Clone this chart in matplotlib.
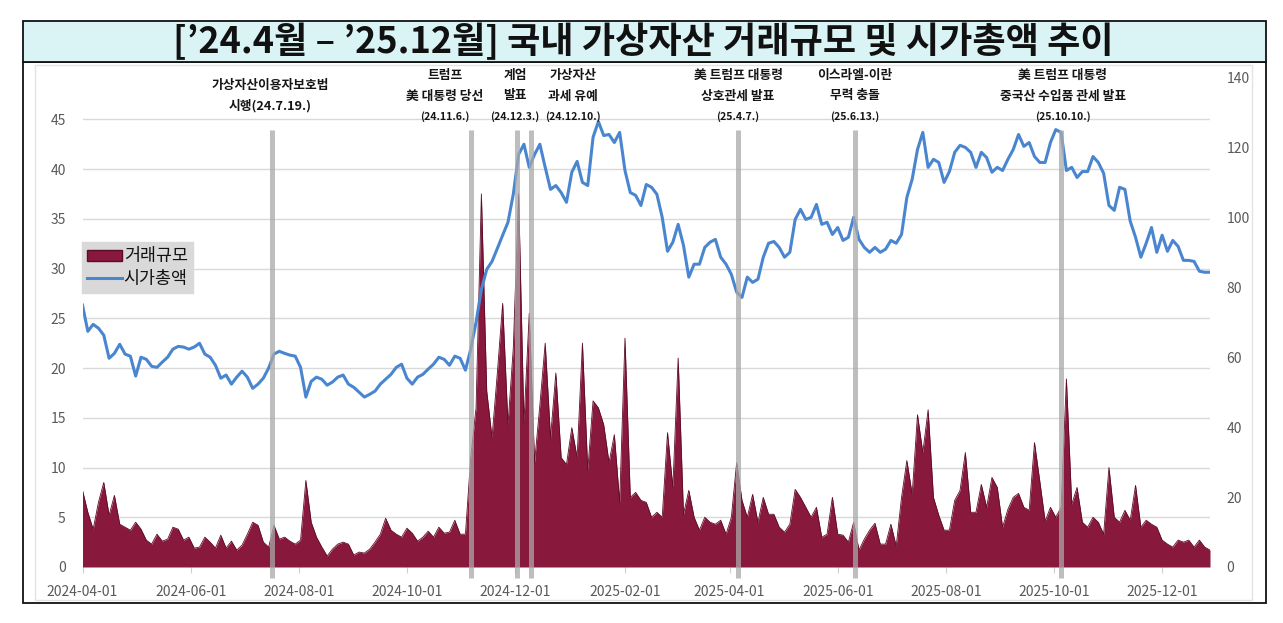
import matplotlib
matplotlib.use("Agg")
import matplotlib.pyplot as plt
import matplotlib.dates as mdates
from matplotlib.patches import Rectangle, Patch
from matplotlib.lines import Line2D
import pandas as pd

plt.rcParams['font.family'] = ['Noto Sans CJK KR', 'DejaVu Sans']

# ---------------- data (3-day sampling) ----------------
start_date = '2024-04-01'
end_date = '2025-12-28'

# 거래규모 (left axis)
volume = [
    7.7, 5.5, 3.8, 6.5, 8.5, 5.2, 7.2, 4.3, 4.0, 3.7, 4.5, 3.8, 2.7, 2.3, 3.3, 2.6, 2.8, 4.0, 3.8, 2.7,
    3.0, 1.9, 2.0, 3.0, 2.5, 1.9, 3.2, 1.9, 2.6, 1.7,
    2.2, 3.3, 4.5, 4.2, 2.5, 2.0, 4.2, 2.8, 3.0, 2.6, 2.3, 2.7, 8.7, 4.5, 3.0, 2.0, 1.1, 1.8, 2.3, 2.5,
    2.3, 1.2, 1.5, 1.4, 1.8, 2.5, 3.3, 4.9, 3.7, 3.3, 3.0, 3.9, 3.4, 2.6, 3.0,
    3.6, 3.0, 4.0, 3.4, 3.5, 4.7, 3.3, 3.3, 11.0, 16.0, 37.5, 17.7, 13.0, 19.5, 26.5, 14.3, 22.0, 37.5,
    14.5, 25.5, 10.5, 16.3, 22.5, 13.0, 19.5, 11.0, 10.3, 14.0, 11.0, 22.5, 9.7, 16.7, 16.0, 14.3, 10.5, 13.3,
    6.5, 23.0, 7.0, 7.5, 6.7, 6.5, 5.0, 5.5, 5.0, 13.5, 8.0, 21.0, 5.3, 7.7, 5.0, 3.7, 5.0, 4.5, 4.3, 4.7,
    3.3, 5.0, 10.5, 6.7, 5.0, 7.3, 4.5, 7.0, 5.3, 5.3, 4.0, 3.5, 4.3, 7.8, 7.0,
    6.0, 5.0, 6.0, 3.0, 3.3, 7.0, 3.3, 3.2, 2.5, 4.5, 1.7, 2.8, 3.7, 4.4, 2.3, 2.3, 4.3, 2.1, 7.0, 10.7,
    7.3, 15.3, 11.5, 15.8, 7.0, 5.2, 3.7, 3.7, 6.7, 7.7, 11.5, 5.5, 5.5, 8.3, 6.0, 9.0,
    8.0, 4.0, 5.8, 7.0, 7.4, 6.0, 5.7, 12.5, 8.6, 4.6, 6.0, 5.0, 6.0, 18.9, 6.3, 8.0, 4.5, 4.0, 5.0, 4.5,
    3.3, 10.0, 5.0, 4.5, 5.7, 4.7, 8.2, 4.0, 4.7, 4.3, 4.0, 2.7, 2.3, 2.0, 2.7, 2.5, 2.7, 2.0, 2.7, 2.0, 1.7,
]

# 시가총액 (right axis)
market_cap = [
    74.9, 67.4, 69.4, 68.3, 66.3, 59.7, 61.1, 63.7, 60.9, 60.3, 54.6, 60.0, 59.4, 57.4, 57.1, 58.6, 60.0,
    62.3, 63.1, 62.9, 62.3, 62.9, 64.0, 60.9, 60.0, 57.7, 54.0, 54.9, 52.3, 54.3,
    56.0, 54.3, 51.1, 52.3, 54.0, 56.9, 60.9, 61.7, 61.1, 60.6, 60.3, 57.1, 48.6, 53.1, 54.3, 53.7, 52.0,
    52.9, 54.3, 54.9, 52.3, 51.4, 50.0, 48.6, 49.4, 50.3, 52.3, 53.7, 55.1, 57.1, 58.0, 54.0, 52.3, 54.3, 55.1,
    56.6, 58.0, 60.0, 59.4, 57.7, 60.3, 59.7, 56.3, 62.3, 70.0, 79.4, 85.1, 87.4, 91.1, 94.9, 98.6, 106.6,
    118.0, 120.9, 114.3, 118.0, 120.9, 114.3, 108.0, 109.1, 107.1, 104.3, 112.9, 116.0, 110.0, 109.1, 122.9,
    127.4, 123.4, 123.7, 121.4,
    124.3, 113.4, 107.1, 106.3, 103.4, 109.4, 108.6, 106.6, 100.0, 90.3, 92.9, 98.0, 92.0, 82.9, 86.6, 86.6,
    91.4, 92.9, 93.7, 88.6, 86.6, 83.7, 78.6, 77.1, 82.9, 81.4, 82.3, 88.6, 92.6, 93.1, 91.4, 88.6, 90.0,
    99.4, 102.3,
    99.4, 100.0, 103.7, 98.0, 98.6, 95.1, 97.1, 93.4, 94.3, 100.0, 93.7, 91.4, 90.0, 91.4, 90.0, 90.9, 93.4,
    92.6, 95.1, 105.7, 110.9, 119.4, 124.3, 114.3, 116.6, 115.7, 110.0, 113.1, 118.6, 120.6, 120.0, 118.6,
    114.3, 118.6, 117.1, 112.9,
    114.3, 113.4, 116.6, 119.4, 123.7, 120.3, 121.4, 117.4, 115.7, 115.7, 121.4, 125.1, 124.3, 113.4, 114.3,
    111.4, 113.1, 113.1, 117.4, 115.7, 112.6, 103.4, 102.0, 108.6, 108.0, 98.9, 94.3, 88.6, 92.6, 97.1, 90.0,
    94.9, 90.3, 93.4, 91.7, 87.7, 87.7, 87.4, 84.6, 84.3, 84.3,
]

series_names = ['거래규모', '시가총액']
left_ticks = [0, 5, 10, 15, 20, 25, 30, 35, 40, 45]
right_ticks = [0, 20, 40, 60, 80, 100, 120, 140]
x_tick_dates = ['2024-04-01', '2024-06-01', '2024-08-01', '2024-10-01', '2024-12-01', '2025-02-01',
                '2025-04-01', '2025-06-01', '2025-08-01', '2025-10-01', '2025-12-01']

event_dates = ['2024-07-17', '2024-11-06', '2024-12-02', '2024-12-10', '2025-04-06', '2025-06-11', '2025-10-05']
event_labels = [
    ['가상자산이용자보호법', '시행(24.7.19.)'],
    ['트럼프', '美 대통령 당선', '(24.11.6.)'],
    ['계엄', '발표', '(24.12.3.)'],
    ['가상자산', '과세 유예', '(24.12.10.)'],
    ['美 트럼프 대통령', '상호관세 발표', '(25.4.7.)'],
    ['이스라엘-이란', '무력 충돌', '(25.6.13.)'],
    ['美 트럼프 대통령', '중국산 수입품 관세 발표', '(25.10.10.)'],
]
title = '[’24.4월 – ’25.12월] 국내 가상자산 거래규모 및 시가총액 추이'

dates = pd.date_range(start_date, periods=len(volume), freq='3D')

# ---------------- styling ----------------
W, H = 1283, 623
MAROON = '#89183D'
MAROON_EDGE = '#5C0C28'
BLUE = '#4A86CF'
GRID = '#D9D9D9'
TICK_COL = '#595959'


def fx(px):
    return px / W


def fy(py):
    return 1 - py / H


fig = plt.figure(figsize=(W / 100, H / 100), dpi=100)
fig.patch.set_facecolor('white')

# outer frame and title band
fig.add_artist(Rectangle((fx(35), fy(600)), fx(1252) - fx(35), fy(65) - fy(600),
                         transform=fig.transFigure, facecolor='none', edgecolor='#E3E3E3', lw=1))
fig.add_artist(Rectangle((fx(22.7), fy(603)), fx(1266) - fx(22.7), fy(62) - fy(603),
                         transform=fig.transFigure, facecolor='none', edgecolor='#111111', lw=1.3))
fig.add_artist(Rectangle((fx(22.7), fy(62)), fx(1266) - fx(22.7), fy(20.7) - fy(62),
                         transform=fig.transFigure, facecolor='#DAF4F5', edgecolor='#111111', lw=1.3))
fig.text(fx(643), fy(42), title, ha='center', va='center', fontsize=26, fontweight='bold', color='#111111')

# axes
ax = fig.add_axes([fx(82.5), fy(567), fx(1210) - fx(82.5), fy(77.5) - fy(567)])
ax.set_facecolor('none')
ax.fill_between(dates, 0, volume, color=MAROON, lw=0, zorder=2)
ax.plot(dates, volume, color=MAROON_EDGE, lw=0.6, zorder=3)
ax.set_ylim(0, 49.2)
ax.set_xlim(pd.Timestamp(start_date), pd.Timestamp(end_date))
ax.set_yticks(left_ticks)
ax.yaxis.grid(True, color=GRID, lw=1)
ax.set_axisbelow(True)
for s in ax.spines.values():
    s.set_visible(False)
ax.tick_params(axis='y', length=0, pad=12, labelsize=10, labelcolor=TICK_COL)
ax.set_xticks([pd.Timestamp(d) for d in x_tick_dates])
ax.xaxis.set_major_formatter(mdates.DateFormatter('%Y-%m-%d'))
ax.tick_params(axis='x', length=4, color='#D0D0D0', pad=9, labelsize=10, labelcolor=TICK_COL)

ax2 = ax.twinx()
ax2.plot(dates, market_cap, color=BLUE, lw=2.2, zorder=3)
ax2.set_ylim(0, 140)
ax2.set_yticks(right_ticks)
for s in ax2.spines.values():
    s.set_visible(False)
ax2.tick_params(axis='y', length=0, pad=12, labelsize=10, labelcolor=TICK_COL)

# event lines
for d in event_dates:
    ax2.plot([pd.Timestamp(d), pd.Timestamp(d)], [-0.023, 0.892], transform=ax2.get_xaxis_transform(),
             color='#A8A8A8', alpha=0.75, lw=3.6, solid_capstyle='butt', clip_on=False, zorder=5)

# event annotations (centre x pixel, top line y pixel)
ann_x = [270, 445, 515, 573, 738, 855, 1063]
for lines, cx in zip(event_labels, ann_x):
    two = len(lines) == 2
    y0 = 85 if two else 75
    for i, t in enumerate(lines):
        is_date = t.startswith('(')
        fig.text(fx(cx), fy(y0 + i * 21), t, ha='center', va='center',
                 fontsize=7.6 if is_date else 9.2, fontweight='bold', color='#151515')

# legend
handles = [Patch(facecolor=MAROON, edgecolor=MAROON_EDGE), Line2D([0], [0], color=BLUE, lw=2.2)]
leg = fig.legend(handles, series_names, loc='upper left', bbox_to_anchor=(fx(82), fy(242)),
                 frameon=True, fancybox=False, facecolor='#D9D9D9', edgecolor='#D9D9D9', framealpha=1,
                 fontsize=12.5, handlelength=2.0, handleheight=0.6, handletextpad=0.1, borderpad=0.3,
                 labelspacing=0.25, borderaxespad=0)
for t in leg.get_texts():
    t.set_color('#111111')

fig.savefig('out.png', dpi=100)
